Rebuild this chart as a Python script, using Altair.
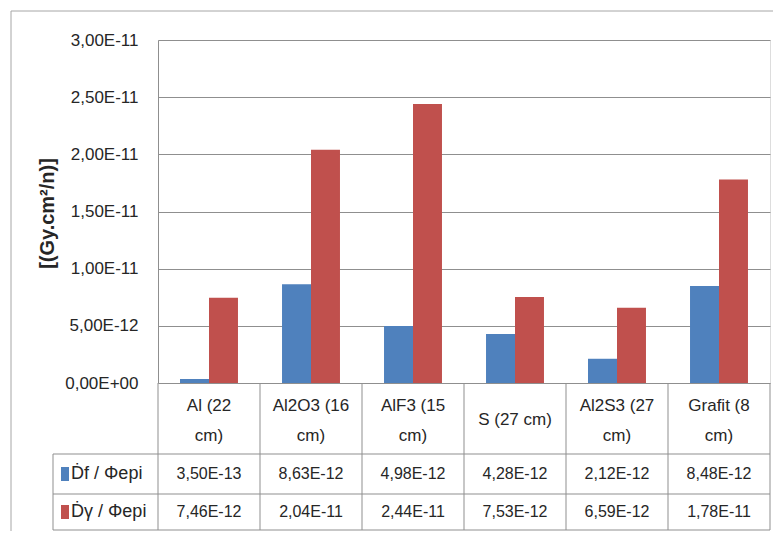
import altair as alt
import pandas as pd

CATEGORIES = ["Al (22 cm)", "Al2O3 (16 cm)", "AlF3 (15 cm)", "S (27 cm)", "Al2S3 (27 cm)", "Grafit (8 cm)"]
SERIES = ["Ḋf / Φepi", "Ḋγ / Φepi"]
DF_VALUES = [3.50e-13, 8.63e-12, 4.98e-12, 4.28e-12, 2.12e-12, 8.48e-12]
DG_VALUES = [7.46e-12, 2.04e-11, 2.44e-11, 7.53e-12, 6.59e-12, 1.78e-11]
COLORS = ["#4F81BD", "#C0504D"]
Y_TICKS = [0, 5e-12, 1e-11, 1.5e-11, 2e-11, 2.5e-11, 3e-11]
Y_TITLE = "[(Gy.cm²/n)]"

FONT = "Liberation Sans"
FS = 17
TXT = "#262626"
LINE = "#8f8f8f"
W, H = 612, 343

rows = []
for i, c in enumerate(CATEGORIES):
    rows.append({"cat": c, "series": SERIES[0], "value": DF_VALUES[i]})
    rows.append({"cat": c, "series": SERIES[1], "value": DG_VALUES[i]})
df = pd.DataFrame(rows)
cats = pd.DataFrame({"cat": CATEGORIES})
one = pd.DataFrame({"k": [0]})

xscale = alt.Scale(domain=CATEGORIES, paddingInner=0, paddingOuter=0)
colscale = alt.Scale(domain=SERIES, range=COLORS)

bars = alt.Chart(df).mark_bar().encode(
    x=alt.X("cat:N", sort=CATEGORIES, scale=xscale, axis=None),
    xOffset=alt.XOffset("series:N", sort=SERIES, scale=alt.Scale(paddingInner=0, paddingOuter=0.76)),
    y=alt.Y(
        "value:Q",
        scale=alt.Scale(domain=[0, 3e-11], nice=False),
        axis=alt.Axis(
            values=Y_TICKS,
            labelExpr="datum.value == 0 ? '0,00E+00' : replace(upper(format(datum.value, '.2e')), '.', ',')",
            title=Y_TITLE,
            titleFont=FONT, titleFontSize=20, titleFontWeight="bold", titleColor=TXT,
            titleAngle=270, titleX=-111, titleY=173, titleAlign="center", titleBaseline="middle",
            labelFont=FONT, labelFontSize=FS, labelColor=TXT, labelPadding=20,
            ticks=False, tickSize=0, grid=True, gridColor=LINE, gridWidth=1,
            domain=True, domainColor=LINE, domainWidth=1,
        ),
    ),
    color=alt.Color("series:N", sort=SERIES, scale=colscale, legend=None),
)

# category labels row of the data table (wrapped like the original)
WRAP = "datum.cat != 'S (27 cm)'"
cat_wrapped = alt.Chart(cats).transform_filter(WRAP).transform_calculate(
    lines="[substring(datum.cat, 0, lastindexof(datum.cat, ' ')), substring(datum.cat, lastindexof(datum.cat, ' ') + 1)]"
).mark_text(font=FONT, fontSize=FS, lineHeight=30, baseline="middle", align="center", color=TXT).encode(
    x=alt.X("cat:N", sort=CATEGORIES, scale=xscale, axis=None),
    y=alt.value(366),
    text="lines:N",
)
cat_single = alt.Chart(cats).transform_filter("!(" + WRAP + ")").mark_text(
    font=FONT, fontSize=FS, baseline="middle", align="center", color=TXT
).encode(
    x=alt.X("cat:N", sort=CATEGORIES, scale=xscale, axis=None),
    y=alt.value(380),
    text="cat:N",
)

layers = [bars, cat_wrapped, cat_single]

row_y = [434, 472]
for s, ry in zip(SERIES, row_y):
    vals = alt.Chart(df).transform_filter(alt.datum.series == s).transform_calculate(
        label="replace(upper(format(datum.value, '.2e')), '.', ',')"
    ).mark_text(font=FONT, fontSize=16, baseline="middle", align="center", color=TXT).encode(
        x=alt.X("cat:N", sort=CATEGORIES, scale=xscale, axis=None),
        y=alt.value(ry),
        text="label:N",
    )
    key = alt.Chart(pd.DataFrame({"series": [s]})).mark_rect().encode(
        x=alt.value(-97), x2=alt.value(-89),
        y=alt.value(ry - 7), y2=alt.value(ry + 7),
        color=alt.Color("series:N", sort=SERIES, scale=colscale, legend=None),
    )
    ktext = alt.Chart(pd.DataFrame({"series": [s]})).mark_text(
        font=FONT, fontSize=18, baseline="middle", align="left", color=TXT
    ).encode(x=alt.value(-87), y=alt.value(ry), text="series:N")
    layers += [vals, key, ktext]

# table grid lines
vlines = alt.Chart(cats).mark_rule(color=LINE, strokeWidth=1).encode(
    x=alt.X("cat:N", sort=CATEGORIES, scale=xscale, axis=None, bandPosition=0),
    y=alt.value(H), y2=alt.value(490),
)
vright = alt.Chart(one).mark_rule(color=LINE, strokeWidth=1).encode(
    x=alt.value(W), y=alt.value(H), y2=alt.value(490)
)
vleft = alt.Chart(one).mark_rule(color=LINE, strokeWidth=1).encode(
    x=alt.value(-105), y=alt.value(414), y2=alt.value(490)
)
hl = []
for yy in [414, 454, 490]:
    hl.append(alt.Chart(one).mark_rule(color=LINE, strokeWidth=1).encode(
        x=alt.value(-105), x2=alt.value(W), y=alt.value(yy)
    ))
border = alt.Chart(one).mark_rect(fill=None, stroke="#a6a6a6", strokeWidth=1).encode(
    x=alt.value(-147), x2=alt.value(W + 40), y=alt.value(-29), y2=alt.value(H + 250)
)

chart = alt.layer(border, *layers, vlines, vright, vleft, *hl).properties(
    width=W, height=H,
    autosize=alt.AutoSizeParams(type="none"),
    padding={"left": 150, "top": 32, "right": 3, "bottom": 148},
).configure_view(stroke=None).configure(background="white")

chart.save("out.html", embed_options={"renderer": "svg", "actions": False})
